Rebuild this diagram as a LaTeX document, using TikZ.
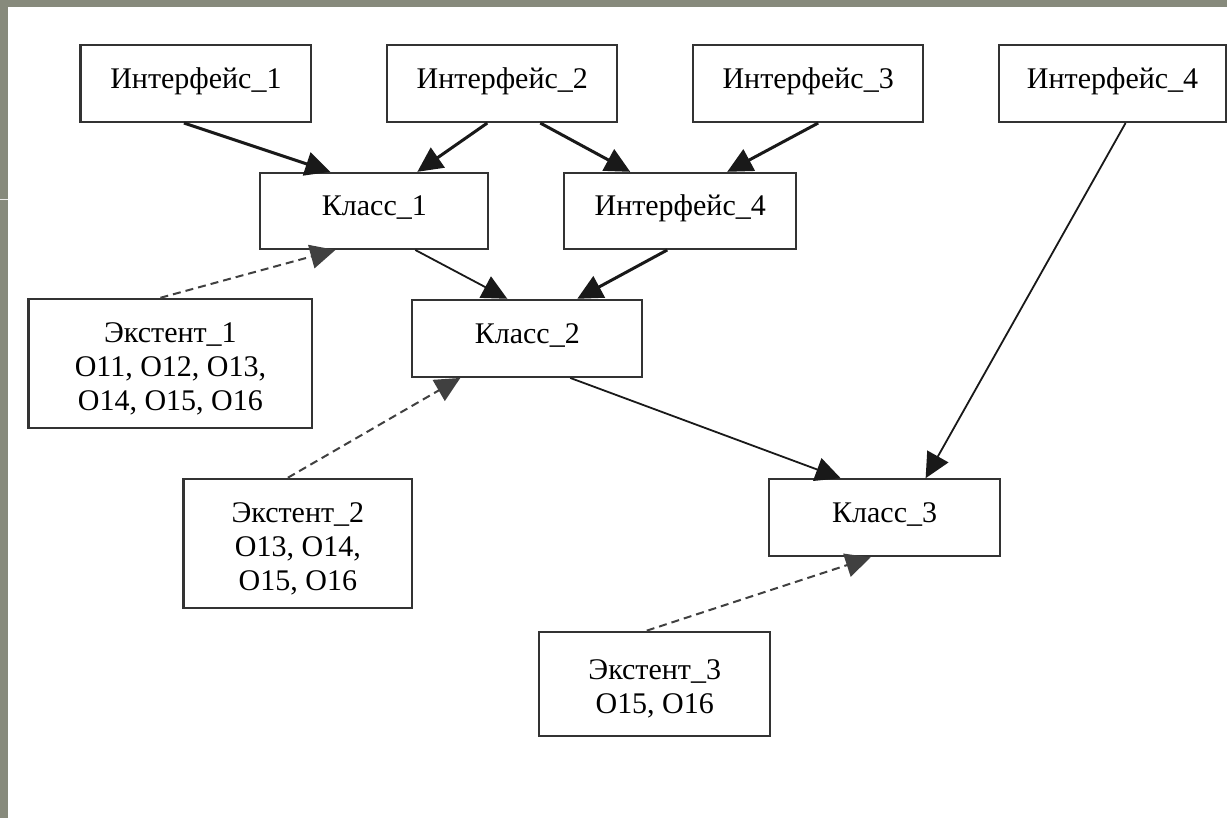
\documentclass[tikz,border=0pt]{standalone}
\usepackage{fontspec}
\setmainfont{Liberation Serif}
\usetikzlibrary{arrows.meta}
\definecolor{bggray}{HTML}{878A7C}
\definecolor{boxline}{HTML}{333333}
\newcommand{\topstrut}{\rule{0pt}{31pt}}
\begin{document}
\begin{tikzpicture}[x=1pt,y=-1pt,
  box/.style={draw=boxline, line width=2.2pt, fill=white, inner sep=0pt,
    font=\fontsize{30}{34}\selectfont, align=center, minimum height=77pt},
  sbox/.style={box, text height=15pt, text depth=5pt},
  heavy/.style={line width=3pt, draw=black!90, -{Triangle[length=25pt,width=24pt]}},
  light/.style={line width=1.8pt, draw=black!90, -{Triangle[length=25pt,width=24pt]}},
  dsh/.style={line width=2pt, draw=black!75, dash pattern=on 8pt off 5pt, -{Triangle[length=25pt,width=24pt]}}
]
\fill[bggray] (0,0) rectangle (1227,818);
\fill[white] (8,7) rectangle (1227,818);
\draw[white!85!bggray, line width=1pt] (0,200) -- (8,200);
\useasboundingbox (0,0) rectangle (1227,818);

\node[sbox, minimum width=231pt] (i1) at (195.5,83.5) {Интерфейс\_1};
\node[sbox, minimum width=230pt] (i2) at (502,83.5) {Интерфейс\_2};
\node[sbox, minimum width=230pt] (i3) at (808,83.5) {Интерфейс\_3};
\node[sbox, minimum width=227pt] (i4) at (1112.5,83.5) {Интерфейс\_4};
\node[sbox, minimum width=228pt, minimum height=76pt] (k1) at (374,211) {Класс\_1};
\node[sbox, minimum width=232pt, minimum height=76pt] (i4m) at (680,211) {Интерфейс\_4};
\node[sbox, minimum width=230pt] (k2) at (527,338.5) {Класс\_2};
\node[sbox, minimum width=231pt] (k3) at (884.5,518) {Класс\_3};
\node[box, minimum width=284pt, minimum height=129pt] (e1) at (170,363.5) {\topstrut Экстент\_1\\O11, O12, O13,\\O14, O15, O16};
\node[box, minimum width=229pt, minimum height=129pt] (e2) at (297.5,543.5) {\topstrut Экстент\_2\\O13, O14,\\O15, O16};
\node[box, minimum width=231pt, minimum height=104pt] (e3) at (654.5,684) {\topstrut Экстент\_3\\O15, O16};

\draw[heavy] ([xshift=-12pt]i1.south) -- ([xshift=-44pt]k1.north);
\draw[heavy] ([xshift=-15pt]i2.south) -- ([xshift=43pt]k1.north);
\draw[heavy] ([xshift=38pt]i2.south) -- ([xshift=-50pt]i4m.north);
\draw[heavy] ([xshift=10pt]i3.south) -- ([xshift=47pt]i4m.north);
\draw[heavy] ([xshift=-13pt]i4m.south) -- ([xshift=50pt]k2.north);
\draw[light] ([xshift=13pt]i4.south) -- ([xshift=41pt]k3.north);
\draw[light] ([xshift=41pt]k1.south) -- ([xshift=-20pt]k2.north);
\draw[light] ([xshift=43pt]k2.south) -- ([xshift=-44pt]k3.north);
\draw[dsh] ([xshift=-10pt]e1.north) -- ([xshift=-39pt]k1.south);
\draw[dsh] ([xshift=-10pt]e2.north) -- ([xshift=-67pt]k2.south);
\draw[dsh] ([xshift=-8pt]e3.north) -- ([xshift=-14pt]k3.south);
\end{tikzpicture}
\end{document}
